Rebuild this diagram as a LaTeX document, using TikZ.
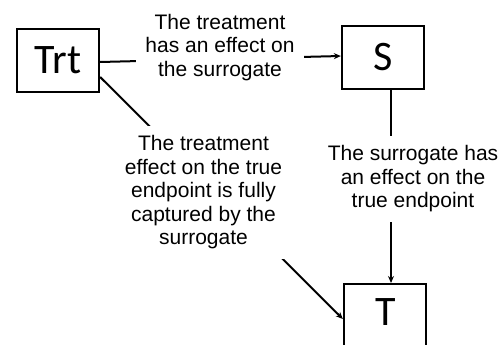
\documentclass[tikz,border=0pt]{standalone}
\usepackage{fontspec}
\setmainfont{Liberation Sans}
\newfontfamily\boxfont{Carlito}
\usetikzlibrary{arrows.meta}
\begin{document}
\begin{tikzpicture}[x=1pt,y=-1pt,
  box/.style={draw, line width=2.3pt, minimum width=82pt, minimum height=63pt, inner sep=0pt, font=\boxfont\fontsize{42}{46}\selectfont},
  boxtext/.style={font=\boxfont\fontsize{42}{46}\selectfont, inner sep=0pt},
  lbl/.style={fill=white, align=center, inner xsep=9pt, inner ysep=10pt, font=\fontsize{21}{23.5}\selectfont},
  conn/.style={line width=2pt},
  arr/.style={conn, -{Stealth[length=7pt,width=6pt]}}]
\useasboundingbox (0,0) rectangle (503,345);
\node[box] (Trt) at (58,60.5) {Trt};
\node[box] (S) at (383,57.5) {S};
\node[box, minimum height=100pt, anchor=north] (T) at (385,283) {};
\node[boxtext] (Tletter) at (385.5,312) {T};
\coordinate (vx) at (391,0);
% connectors
\draw[arr] ([yshift=-1.5pt]Trt.east) -- ([yshift=1.5pt]S.west);
\draw[arr] (S.south -| vx) -- (T.north -| vx);
\draw[arr] ([yshift=-16.5pt]Trt.east) -- ([yshift=-36pt]T.north west);
% labels
\node[lbl] (l1) at (220,47.5) {The treatment\\has an effect on\\the surrogate};
\node[lbl] (l2) at (203.5,192.5) {The treatment\\effect on the true\\endpoint is fully\\captured by the\\surrogate};
\node[lbl] (l3) at (413,179) {The surrogate has\\an effect on the\\true endpoint};
\end{tikzpicture}
\end{document}
